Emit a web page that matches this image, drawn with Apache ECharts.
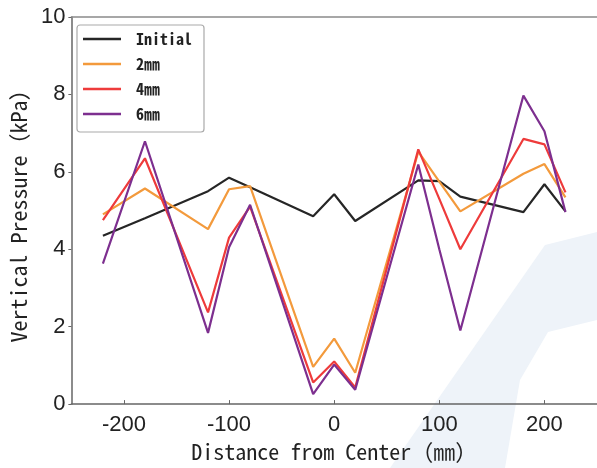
<!DOCTYPE html>
<html><head><meta charset="utf-8">
<script src="https://cdn.jsdelivr.net/npm/echarts@6/dist/echarts.min.js"></script>
<style>html,body{margin:0;padding:0;background:#fff}#c{width:597px;height:468px}</style>
</head><body><div id="c"></div>
<script>
const distances = [-220,-180,-120,-100,-80,-20,0,20,80,100,120,180,200,220];
const initialP = [4.35,4.8,5.5,5.85,5.6,4.85,5.42,4.73,5.78,5.76,5.36,4.96,5.68,4.98];
const p2mm = [4.9,5.57,4.52,5.55,5.63,0.96,1.69,0.81,6.52,5.75,4.98,5.95,6.2,5.34];
const p4mm = [4.75,6.35,2.37,4.3,5.1,0.56,1.1,0.43,6.58,5.3,4.0,6.85,6.71,5.47];
const p6mm = [3.63,6.79,1.84,4.05,5.15,0.26,1.02,0.37,6.19,4.0,1.9,7.97,7.05,4.96];
const xTicks = [-200,-100,0,100,200];
const seriesNames = ['Initial','2㎜','4㎜','6㎜'];
const seriesColors = ['#262626','#f39a3c','#ee3b3b','#7d2f8f'];
const seriesValues = [initialP,p2mm,p4mm,p6mm];

const tickFont = '"Liberation Sans Narrow","Liberation Sans",Arial,sans-serif';
const monoFont = '"Noto Sans Mono CJK JP","Noto Sans CJK JP","DejaVu Sans Mono",monospace';

const chart = echarts.init(document.getElementById('c'), null, {renderer:'canvas'});
chart.setOption({
  animation:false,
  backgroundColor:'#fff',
  graphic:[{
    type:'polygon',z:-10,silent:true,
    shape:{points:[[390,468],[545,245],[597,232],[597,320],[548,332],[520,380],[505,468]]},
    style:{fill:'#eef3f9'}
  }],
  grid:{left:70,top:17,width:529,height:395},
  legend:{
    orient:'vertical',left:77,top:25,
    data:seriesNames,
    icon:'rect',itemWidth:38,itemHeight:2.5,itemGap:9,
    padding:[6,12,10,6],
    borderColor:'#aaa',borderWidth:1.2,borderRadius:3,backgroundColor:'#fff',
    textStyle:{fontFamily:monoFont,fontSize:16,color:'#222',fontWeight:'bold',lineHeight:16,padding:[0,0,0,10]}
  },
  xAxis:[{
    type:'value',min:-250,max:250,
    name:'Distance from Center（㎜）',nameLocation:'middle',nameGap:35,
    nameTextStyle:{fontFamily:monoFont,fontSize:22,color:'#222'},
    axisLine:{show:true,onZero:false,lineStyle:{color:'#666',width:1.5}},
    axisTick:{show:true,inside:true,length:4,customValues:xTicks,lineStyle:{color:'#666'}},
    axisLabel:{customValues:xTicks,margin:10,fontFamily:tickFont,fontSize:22,color:'#222'},
    splitLine:{show:false}
  },{
    type:'value',min:-250,max:250,position:'top',
    axisLine:{show:true,onZero:false,lineStyle:{color:'#8a8a8a',width:1.5}},
    axisTick:{show:false},axisLabel:{show:false},splitLine:{show:false}
  }],
  yAxis:{
    type:'value',min:0,max:10,interval:2,
    name:'Vertical Pressure（kPa）',nameLocation:'middle',nameGap:38,
    nameTextStyle:{fontFamily:monoFont,fontSize:22,color:'#222'},
    axisLine:{show:true,onZero:false,lineStyle:{color:'#666',width:1.5}},
    axisTick:{show:true,inside:false,length:3,lineStyle:{color:'#666'}},
    axisLabel:{margin:6,fontFamily:tickFont,fontSize:22,color:'#222'},
    splitLine:{show:false}
  },
  series: seriesNames.map((n,i)=>({
    name:n,type:'line',symbol:'none',
    data:distances.map((d,j)=>[d,seriesValues[i][j]]),
    lineStyle:{color:seriesColors[i],width:2.2},
    itemStyle:{color:seriesColors[i]}
  }))
});
</script></body></html>
